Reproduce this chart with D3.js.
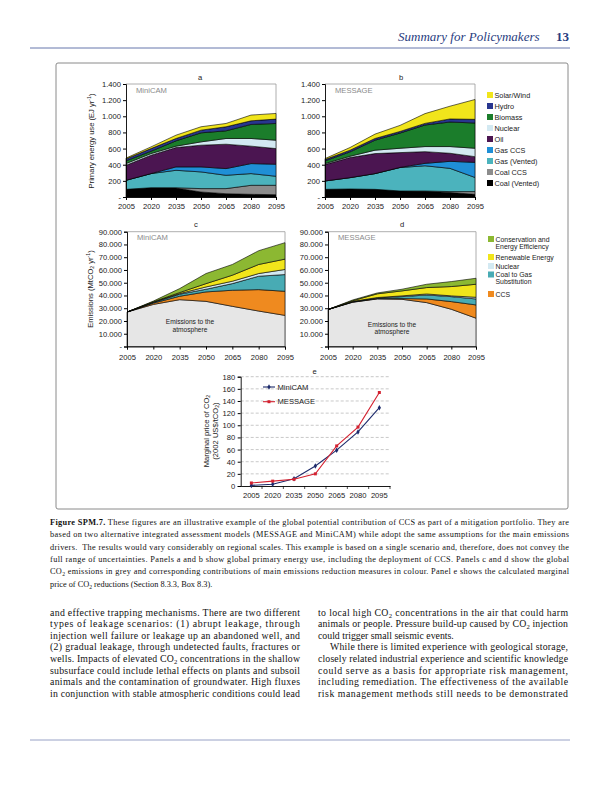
<!DOCTYPE html>
<html><head><meta charset="utf-8">
<script src="https://cdn.jsdelivr.net/npm/d3@7"></script>
<style>body{margin:0;background:#fff}svg{display:block}</style>
</head><body>
<svg id="c" width="612" height="792"></svg>
<script>
// ---------------- DATA ----------------
const years = [2005, 2020, 2035, 2050, 2065, 2080, 2095];

const energyKeys = ["Coal (Vented)", "Coal CCS", "Gas (Vented)", "Gas CCS", "Oil", "Nuclear", "Biomass", "Hydro", "Solar/Wind"];
const energyColors = ["#000000", "#8c8c8c", "#4bb3bd", "#1f8fd6", "#4b1551", "#d3e9f2", "#1b7d2b", "#28368f", "#f1e51b"];

// Panel a: MiniCAM primary energy (EJ/yr)
const minicamCoalVented = [95, 115, 110, 62, 41, 33, 29];
const minicamCoalCCS    = [0, 0, 5, 42, 63, 112, 116];
const minicamGasVented  = [112, 175, 216, 207, 165, 145, 112];
const minicamGasCCS     = [0, 0, 42, 62, 83, 124, 149];
const minicamOil        = [186, 228, 240, 269, 302, 216, 194];
const minicamNuclear    = [21, 20, 17, 41, 71, 95, 104];
const minicamBiomass    = [33, 29, 66, 112, 95, 174, 207];
const minicamHydro      = [25, 33, 29, 33, 50, 45, 54];
const minicamSolarWind  = [10, 21, 41, 42, 41, 71, 70];

// Panel b: MESSAGE primary energy (EJ/yr)
const messageCoalVented = [95, 100, 95, 75, 70, 55, 33];
const messageCoalCCS    = [0, 0, 0, 0, 5, 12, 34];
const messageGasVented  = [104, 140, 195, 290, 312, 288, 175];
const messageGasCCS     = [0, 0, 0, 2, 30, 87, 187];
const messageOil        = [203, 249, 248, 183, 145, 100, 71];
const messageNuclear    = [12, 16, 42, 54, 63, 83, 104];
const messageBiomass    = [33, 54, 124, 188, 267, 304, 313];
const messageHydro      = [17, 21, 21, 20, 20, 38, 45];
const messageSolarWind  = [12, 33, 54, 75, 121, 158, 246];

const energyTicks = [0, 200, 400, 600, 800, 1000, 1200, 1400];
const energyTickLabels = ["-", "200", "400", "600", "800", "1.000", "1.200", "1.400"];

const emisKeys = ["Emissions to the atmosphere", "CCS", "Coal to Gas Substitution", "Nuclear", "Renewable Energy", "Conservation and Energy Efficiency"];
const emisColors = ["#e6e6e6", "#ef8a1f", "#48abb4", "#d3e9f2", "#f1e51b", "#8cb832"];

// Panel c: MiniCAM emissions (MtCO2/yr)
const minicamAtmosphere   = [27000, 33000, 36700, 35400, 31500, 27800, 24400];
const minicamCCSRed       = [0, 1000, 2700, 7400, 12600, 16800, 18900];
const minicamCoalToGas    = [0, 500, 1600, 2100, 5200, 10500, 13100];
const minicamNuclearRed   = [0, 300, 500, 1800, 1900, 2100, 4000];
const minicamRenewable    = [0, 300, 800, 2600, 4700, 7100, 8100];
const minicamConservation = [0, 500, 3100, 7900, 8400, 10800, 12900];

// Panel d: MESSAGE emissions (MtCO2/yr)
const messageAtmosphere   = [29000, 34700, 37300, 37000, 34400, 29200, 22200];
const messageCCSRed       = [0, 200, 300, 600, 2900, 6000, 10400];
const messageCoalToGas    = [0, 300, 500, 1500, 3100, 3900, 4700];
const messageNuclearRed   = [0, 200, 300, 600, 800, 600, 1300];
const messageRenewable    = [0, 500, 2900, 3900, 5000, 7300, 10200];
const messageConservation = [0, 600, 700, 1300, 2600, 3900, 4700];

const emisTicks = [0, 10000, 20000, 30000, 40000, 50000, 60000, 70000, 80000, 90000];
const emisTickLabels = ["-", "10.000", "20.000", "30.000", "40.000", "50.000", "60.000", "70.000", "80.000", "90.000"];

// Panel e: marginal price of CO2 (2002 US$/tCO2)
const priceMiniCAM = [1, 3, 12, 33, 59, 89, 129];
const priceMESSAGE = [5, 8, 11, 20, 66, 97, 154];
const priceTicks = [0, 20, 40, 60, 80, 100, 120, 140, 160, 180];

const captionLines = [
  "**Figure SPM.7.** These figures are an illustrative example of the global potential contribution of CCS as part of a mitigation portfolio. They are",
  "based on two alternative integrated assessment models (MESSAGE and MiniCAM) while adopt the same assumptions for the main emissions",
  "drivers.  The results would vary considerably on regional scales. This example is based on a single scenario and, therefore, does not convey the",
  "full range of uncertainties. Panels a and b show global primary energy use, including the deployment of CCS. Panels c and d show the global",
  "CO₂ emissions in grey and corresponding contributions of main emissions reduction measures in colour. Panel e shows the calculated marginal",
  "price of CO₂ reductions (Section 8.3.3, Box 8.3)."
];
const leftColLines = [
  "and effective trapping mechanisms. There are two different",
  "types of leakage scenarios: (1) abrupt leakage, through",
  "injection well failure or leakage up an abandoned well, and",
  "(2) gradual leakage, through undetected faults, fractures or",
  "wells. Impacts of elevated CO₂ concentrations in the shallow",
  "subsurface could include lethal effects on plants and subsoil",
  "animals and the contamination of groundwater. High fluxes",
  "in conjunction with stable atmospheric conditions could lead"
];
const rightColLines = [
  "to local high CO₂ concentrations in the air that could harm",
  "animals or people. Pressure build-up caused by CO₂ injection",
  "could trigger small seismic events.",
  "While there is limited experience with geological storage,",
  "closely related industrial experience and scientific knowledge",
  "could serve as a basis for appropriate risk management,",
  "including remediation. The effectiveness of the available",
  "risk management methods still needs to be demonstrated"
];

// ---------------- DRAWING ----------------
const svg = d3.select("#c");
const SANS = "'Liberation Sans', Arial, sans-serif";
const SERIF = "'Liberation Serif', 'Times New Roman', serif";

function rich(t, str, fs) {
  str.split(/(₂|⁻¹|\*\*[^*]+\*\*)/).forEach(p => {
    if (!p) return;
    if (p === "₂") t.append("tspan").attr("baseline-shift", "-25%").attr("font-size", fs * 0.68).text("2");
    else if (p === "⁻¹") t.append("tspan").attr("baseline-shift", "super").attr("font-size", fs * 0.68).text("-1");
    else if (p.startsWith("**")) t.append("tspan").attr("font-weight", "bold").text(p.slice(2, -2));
    else t.append("tspan").text(p);
  });
}

// header
svg.append("text").attr("x", 398).attr("y", 41).attr("font-family", SERIF).attr("font-style", "italic")
  .attr("font-size", 13).attr("fill", "#283c80").text("Summary for Policymakers");
svg.append("text").attr("x", 556).attr("y", 41).attr("font-family", SERIF).attr("font-weight", "bold")
  .attr("font-size", 13).attr("fill", "#283c80").text("13");
svg.append("line").attr("x1", 30).attr("x2", 570).attr("y1", 48).attr("y2", 48).attr("stroke", "#5567a3").attr("stroke-width", 0.9);
svg.append("line").attr("x1", 30).attr("x2", 570).attr("y1", 740).attr("y2", 740).attr("stroke", "#7d8bb8").attr("stroke-width", 0.8);

// figure frame
svg.append("rect").attr("x", 56).attr("y", 63).attr("width", 512).attr("height", 446).attr("rx", 2)
  .attr("fill", "none").attr("stroke", "#8a8a8a").attr("stroke-width", 1);

function tableOf(keys, arrays) {
  return years.map((yr, i) => { const o = { year: yr }; keys.forEach((k, j) => o[k] = arrays[j][i]); return o; });
}

function stackPanel(opt) {
  const g = svg.append("g");
  const x = d3.scaleLinear().domain([2005, 2095]).range([opt.x0, opt.x1]);
  const y = d3.scaleLinear().domain([0, opt.ymax]).range([opt.yb, opt.yt]);
  const series = d3.stack().keys(opt.keys)(opt.table);
  const area = d3.area().x(d => x(d.data.year)).y0(d => y(d[0])).y1(d => y(d[1]));
  g.append("path").attr("d", `M${opt.x0},${opt.yt}H${opt.x1}V${opt.yb}`).attr("fill", "none").attr("stroke", "#9a9a9a").attr("stroke-width", 0.8);
  g.selectAll(".ar").data(series).join("path").attr("d", area)
    .attr("fill", (d, i) => opt.colors[i]).attr("stroke", "#000").attr("stroke-width", 0.6).attr("stroke-linejoin", "round");
  const ya = g.append("g").attr("transform", `translate(${opt.x0},0)`)
    .call(d3.axisLeft(y).tickValues(opt.ticks).tickFormat((d, i) => opt.tickLabels[i]).tickSize(3).tickPadding(2));
  const xa = g.append("g").attr("transform", `translate(0,${opt.yb})`)
    .call(d3.axisBottom(x).tickValues(years).tickFormat(d3.format("d")).tickSize(3).tickPadding(opt.xpad));
  [ya, xa].forEach(a => {
    a.select(".domain").attr("stroke", "#000").attr("stroke-width", 0.9);
    a.selectAll("line").attr("stroke", "#000");
    a.selectAll("text").attr("font-family", SANS).attr("font-size", 7.6).attr("fill", "#1a1a1a");
  });
  g.append("text").attr("x", opt.titleX).attr("y", opt.titleY).attr("text-anchor", "middle")
    .attr("font-family", SANS).attr("font-size", 7.6).attr("fill", "#222").text(opt.title);
  g.append("text").attr("x", opt.x0 + 10).attr("y", opt.yt + 8.5).attr("font-family", SANS).attr("font-size", 7.6)
    .attr("fill", "#8a8a8a").text(opt.model);
  if (opt.atmo) {
    const cx = opt.atmo[0];
    g.append("text").attr("x", cx).attr("y", opt.atmo[1]).attr("text-anchor", "middle").attr("font-family", SANS)
      .attr("font-size", 6.6).attr("fill", "#222").text("Emissions to the");
    g.append("text").attr("x", cx).attr("y", opt.atmo[1] + 7.8).attr("text-anchor", "middle").attr("font-family", SANS)
      .attr("font-size", 6.6).attr("fill", "#222").text("atmosphere");
  }
}

stackPanel({ x0: 126, x1: 276, yb: 197, yt: 84, ymax: 1400, keys: energyKeys, colors: energyColors,
  table: tableOf(energyKeys, [minicamCoalVented, minicamCoalCCS, minicamGasVented, minicamGasCCS, minicamOil, minicamNuclear, minicamBiomass, minicamHydro, minicamSolarWind]),
  ticks: energyTicks, tickLabels: energyTickLabels, title: "a", titleX: 200, titleY: 80, model: "MiniCAM", xpad: 4 });
stackPanel({ x0: 325, x1: 475, yb: 197, yt: 84, ymax: 1400, keys: energyKeys, colors: energyColors,
  table: tableOf(energyKeys, [messageCoalVented, messageCoalCCS, messageGasVented, messageGasCCS, messageOil, messageNuclear, messageBiomass, messageHydro, messageSolarWind]),
  ticks: energyTicks, tickLabels: energyTickLabels, title: "b", titleX: 401, titleY: 80, model: "MESSAGE", xpad: 4 });
stackPanel({ x0: 127, x1: 285, yb: 346.5, yt: 231.7, ymax: 90000, keys: emisKeys, colors: emisColors,
  table: tableOf(emisKeys, [minicamAtmosphere, minicamCCSRed, minicamCoalToGas, minicamNuclearRed, minicamRenewable, minicamConservation]),
  ticks: emisTicks, tickLabels: emisTickLabels, title: "c", titleX: 196, titleY: 227, model: "MiniCAM", xpad: 5, atmo: [190, 324] });
stackPanel({ x0: 328, x1: 476, yb: 346.5, yt: 231.7, ymax: 90000, keys: emisKeys, colors: emisColors,
  table: tableOf(emisKeys, [messageAtmosphere, messageCCSRed, messageCoalToGas, messageNuclearRed, messageRenewable, messageConservation]),
  ticks: emisTicks, tickLabels: emisTickLabels, title: "d", titleX: 402, titleY: 227, model: "MESSAGE", xpad: 5, atmo: [392, 326.5] });

// y-axis titles
const yt1 = svg.append("text").attr("transform", "translate(94,141) rotate(-90)").attr("text-anchor", "middle")
  .attr("font-family", SANS).attr("font-size", 7.6).attr("fill", "#222");
rich(yt1, "Primary energy use (EJ yr⁻¹)", 7.6);
const yt2 = svg.append("text").attr("transform", "translate(93,289) rotate(-90)").attr("text-anchor", "middle")
  .attr("font-family", SANS).attr("font-size", 7.6).attr("fill", "#222");
rich(yt2, "Emissions (MtCO₂ yr⁻¹)", 7.6);

// legends
function legend(items, colors, x, ys, lines, fs, lh) {
  const g = svg.append("g");
  items.forEach((k, i) => {
    g.append("rect").attr("x", x).attr("y", ys[i] - 3).attr("width", 6).attr("height", 6).attr("fill", colors[i]);
    lines[i].forEach((ln, j) => {
      g.append("text").attr("x", x + 7.5).attr("y", ys[i] + 2.6 + j * lh).attr("font-family", SANS)
        .attr("font-size", fs).attr("fill", "#1a1a1a").text(ln);
    });
  });
}
const eLegKeys = energyKeys.slice().reverse();
const eLegCols = energyColors.slice().reverse();
legend(eLegKeys, eLegCols, 487, eLegKeys.map((k, i) => 95 + i * 11), eLegKeys.map(k => [k]), 7.3, 0);
const mLegKeys = emisKeys.slice(1).reverse();
const mLegCols = emisColors.slice(1).reverse();
legend(mLegKeys, mLegCols, 488, [239, 257, 266, 274.5, 294],
  [["Conservation and", "Energy Efficiency"], ["Renewable Energy"], ["Nuclear"], ["Coal to Gas", "Substitution"], ["CCS"]], 6.9, 7.3);

// panel e
(function () {
  const g = svg.append("g");
  const x = d3.scaleBand().domain(years).range([240.7, 390]);
  const y = d3.scaleLinear().domain([0, 180]).range([486, 376.7]);
  g.selectAll(".grid").data(priceTicks.slice(1)).join("line")
    .attr("x1", 240.7).attr("x2", 390).attr("y1", d => y(d)).attr("y2", d => y(d))
    .attr("stroke", "#b0b0b0").attr("stroke-width", 0.7).attr("stroke-dasharray", "3,2");
  const ya = g.append("g").attr("transform", "translate(240.7,0)")
    .call(d3.axisLeft(y).tickValues(priceTicks).tickFormat(d3.format("d")).tickSize(3).tickPadding(2.5));
  const xa = g.append("g").attr("transform", "translate(0,486)")
    .call(d3.axisBottom(x).tickSize(0).tickPadding(7));
  [ya, xa].forEach(a => {
    a.select(".domain").attr("stroke", "#000").attr("stroke-width", 0.9);
    a.selectAll("line").attr("stroke", "#000");
    a.selectAll("text").attr("font-family", SANS).attr("font-size", 7.6).attr("fill", "#1a1a1a");
  });
  g.selectAll(".sep").data(years.slice(1).concat(["end"])).join("line")
    .attr("x1", d => d === "end" ? 390 : x(d)).attr("x2", d => d === "end" ? 390 : x(d))
    .attr("y1", 486).attr("y2", 489).attr("stroke", "#000").attr("stroke-width", 0.7);
  const cx = d => x(d) + x.bandwidth() / 2;
  const line = d3.line().x((d, i) => cx(years[i])).y(d => y(d));
  const sets = [
    { vals: priceMiniCAM, color: "#1d2a6b", shape: d3.symbolDiamond, name: "MiniCAM", ly: 387 },
    { vals: priceMESSAGE, color: "#d3202f", shape: d3.symbolSquare, name: "MESSAGE", ly: 401.7 }
  ];
  sets.forEach(s => {
    g.append("path").attr("d", line(s.vals)).attr("fill", "none").attr("stroke", s.color).attr("stroke-width", 1.1);
    g.selectAll(null).data(s.vals).join("path")
      .attr("transform", (d, i) => `translate(${cx(years[i])},${y(d)})`)
      .attr("d", d3.symbol().type(s.shape).size(9)).attr("fill", s.color);
    g.append("line").attr("x1", 263).attr("x2", 275).attr("y1", s.ly).attr("y2", s.ly).attr("stroke", s.color).attr("stroke-width", 1.1);
    g.append("path").attr("transform", `translate(269,${s.ly})`).attr("d", d3.symbol().type(s.shape).size(9)).attr("fill", s.color);
    g.append("text").attr("x", 277.5).attr("y", s.ly + 2.7).attr("font-family", SANS).attr("font-size", 7.6)
      .attr("fill", "#1a1a1a").text(s.name);
  });
  g.append("text").attr("x", 314.5).attr("y", 374).attr("text-anchor", "middle").attr("font-family", SANS)
    .attr("font-size", 7.6).attr("fill", "#222").text("e");
  const l1 = g.append("text").attr("transform", "translate(209,431) rotate(-90)").attr("text-anchor", "middle")
    .attr("font-family", SANS).attr("font-size", 7.6).attr("fill", "#222");
  rich(l1, "Marginal price of CO₂", 7.6);
  const l2 = g.append("text").attr("transform", "translate(218,431) rotate(-90)").attr("text-anchor", "middle")
    .attr("font-family", SANS).attr("font-size", 7.6).attr("fill", "#222");
  rich(l2, "(2002 US$/tCO₂)", 7.6);
})();

// caption and body text
function para(lines, x, w, y0, dy, fs, lastNoJustify, indentIdx) {
  lines.forEach((ln, i) => {
    const ind = (indentIdx || []).includes(i) ? 12 : 0;
    const t = svg.append("text").attr("x", x + ind).attr("y", y0 + i * dy).attr("font-family", SERIF)
      .attr("font-size", fs).attr("fill", "#111").attr("xml:space", "preserve");
    rich(t, ln, fs);
    if (!(lastNoJustify || []).includes(i)) t.attr("textLength", w - ind).attr("lengthAdjust", "spacing");
  });
}
para(captionLines, 50, 519, 525, 12.3, 8.3, [5]);
para(leftColLines, 50, 250, 615.5, 11.6, 9.8, []);
para(rightColLines, 318, 250, 615.5, 11.6, 9.8, [2], [3]);
</script>
</body></html>
